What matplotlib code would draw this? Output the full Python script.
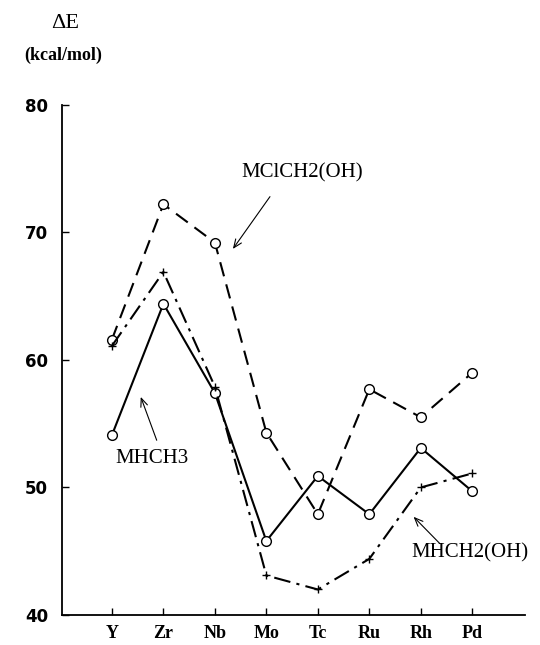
#!/usr/bin/env python3
# Reaction energy dE (kcal/mol) across the 4d transition metals
import matplotlib
matplotlib.use('Agg')
import matplotlib.pyplot as plt

METALS = ['Y', 'Zr', 'Nb', 'Mo', 'Tc', 'Ru', 'Rh', 'Pd']
MCLCH2OH = [61.6, 72.2, 69.2, 54.3, 47.9, 57.7, 55.5, 59.0]
MHCH3 = [54.1, 64.4, 57.4, 45.8, 50.9, 47.9, 53.1, 49.7]
MHCH2OH = [61.1, 66.9, 57.9, 43.1, 42.0, 44.4, 50.0, 51.1]

SERIF = 'Liberation Serif'

fig = plt.figure(figsize=(5.4, 6.45), dpi=100)
ax = fig.add_axes([0.1148, 0.0465, 0.857, 0.791])

x = list(range(1, len(METALS) + 1))
ax.plot(x, MCLCH2OH, color='black', lw=1.5, dashes=(7, 4),
        marker='o', ms=7, mfc='white', mec='black', mew=1.0)
ax.plot(x, MHCH3, color='black', lw=1.5, linestyle='-',
        marker='o', ms=7, mfc='white', mec='black', mew=1.0)
ax.plot(x, MHCH2OH, color='black', lw=1.5, dashes=(8, 3, 1.5, 3),
        marker='+', ms=6, mec='black', mew=1.0)

ax.set_xlim(0.03, 9.02)
ax.set_ylim(40, 80)
ax.set_xticks(x)
ax.set_xticklabels(METALS, family=SERIF, fontweight='bold', fontsize=13)
ax.set_yticks([40, 50, 60, 70, 80])
ax.set_yticklabels(['40', '50', '60', '70', '80'], fontweight='bold', fontsize=12)
ax.tick_params(axis='x', direction='in', length=5, width=1, pad=7)
ax.tick_params(axis='y', direction='in', length=5, width=1, pad=10)
for side in ('top', 'right'):
    ax.spines[side].set_visible(False)
ax.spines['left'].set_linewidth(1.3)
ax.spines['bottom'].set_linewidth(1.3)

arrow = dict(arrowstyle='->,head_length=0.6,head_width=0.25', color='black',
             lw=0.8, shrinkA=0, shrinkB=0)
ax.annotate('', xy=(3.35, 68.7), xytext=(4.07, 72.8), arrowprops=arrow)
ax.text(4.69, 74.67, 'MClCH2(OH)', family=SERIF, fontsize=15,
        ha='center', va='center')
ax.annotate('', xy=(1.56, 57.1), xytext=(1.87, 53.7), arrowprops=arrow)
ax.text(1.78, 52.3, 'MHCH3', family=SERIF, fontsize=15,
        ha='center', va='center')
ax.annotate('', xy=(6.86, 47.7), xytext=(7.37, 45.6), arrowprops=arrow)
ax.text(7.95, 44.9, 'MHCH2(OH)', family=SERIF, fontsize=15,
        ha='center', va='center', clip_on=False)

fig.text(65 / 540, 1 - 23 / 645, '\u0394E', family=SERIF, fontsize=16,
         ha='center', va='center')
fig.text(63 / 540, 1 - 55 / 645, '(kcal/mol)', family=SERIF, fontsize=13,
         fontweight='bold', ha='center', va='center')

fig.savefig('out.png', dpi=100)
